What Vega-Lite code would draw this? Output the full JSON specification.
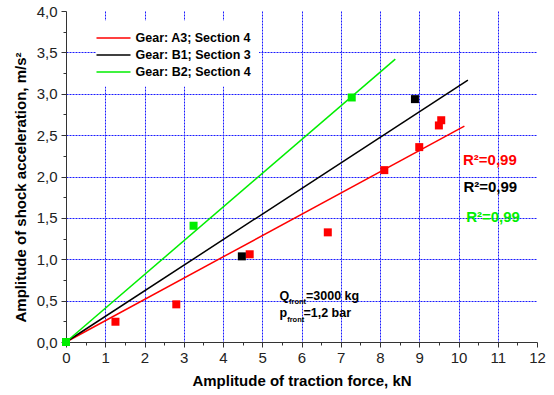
{
  "$schema": "https://vega.github.io/schema/vega-lite/v6.json",
  "width": 471,
  "height": 331,
  "autosize": "none",
  "padding": {"left": 66, "top": 11, "right": 17, "bottom": 53},
  "background": "white",
  "config": {"view": {"stroke": null}, "font": "Liberation Sans"},
  "datasets": {
    "fits": [
      {"series": "Gear: A3; Section 4", "x": 0, "y": 0},
      {"series": "Gear: A3; Section 4", "x": 10.15, "y": 2.609},
      {"series": "Gear: B1; Section 3", "x": 0, "y": 0},
      {"series": "Gear: B1; Section 3", "x": 10.24, "y": 3.164},
      {"series": "Gear: B2; Section 4", "x": 0, "y": 0},
      {"series": "Gear: B2; Section 4", "x": 8.39, "y": 3.418}
    ],
    "points": [
      {"series": "Gear: A3; Section 4", "x": 0, "y": 0},
      {"series": "Gear: A3; Section 4", "x": 1.26, "y": 0.245},
      {"series": "Gear: A3; Section 4", "x": 2.81, "y": 0.455},
      {"series": "Gear: A3; Section 4", "x": 4.68, "y": 1.06},
      {"series": "Gear: A3; Section 4", "x": 6.67, "y": 1.325},
      {"series": "Gear: A3; Section 4", "x": 8.11, "y": 2.077},
      {"series": "Gear: A3; Section 4", "x": 9.0, "y": 2.355},
      {"series": "Gear: A3; Section 4", "x": 9.5, "y": 2.617},
      {"series": "Gear: A3; Section 4", "x": 9.56, "y": 2.68},
      {"series": "Gear: B1; Section 3", "x": 0, "y": 0},
      {"series": "Gear: B1; Section 3", "x": 4.48, "y": 1.035},
      {"series": "Gear: B1; Section 3", "x": 8.89, "y": 2.935},
      {"series": "Gear: B2; Section 4", "x": 0, "y": 0},
      {"series": "Gear: B2; Section 4", "x": 3.25, "y": 1.405},
      {"series": "Gear: B2; Section 4", "x": 7.28, "y": 2.955}
    ],
    "r2": [
      {"series": "Gear: A3; Section 4", "x": 10.8, "y": 2.205, "label": "R²=0,99"},
      {"series": "Gear: B1; Section 3", "x": 10.81, "y": 1.875, "label": "R²=0,99"},
      {"series": "Gear: B2; Section 4", "x": 10.88, "y": 1.506, "label": "R²=0,99"}
    ],
    "notes": [
      {"x": 5.44, "y": 0.559, "label": "Q"},
      {"x": 6.115, "y": 0.559, "label": "=3000 kg"},
      {"x": 5.44, "y": 0.346, "label": "p"},
      {"x": 6.05, "y": 0.346, "label": "=1,2 bar"}
    ],
    "subs": [
      {"x": 5.682, "y": 0.48, "label": "front"},
      {"x": 5.634, "y": 0.27, "label": "front"}
    ]
  },
  "encoding": {
    "x": {
      "field": "x",
      "type": "quantitative",
      "scale": {"domain": [0, 12], "nice": false, "zero": false},
      "axis": {
        "title": "Amplitude of traction force, kN",
        "titleFontSize": 15,
        "titleFontWeight": "bold",
        "titleColor": "black",
        "titlePadding": 8,
        "values": [0, 0.5, 1, 1.5, 2, 2.5, 3, 3.5, 4, 4.5, 5, 5.5, 6, 6.5, 7, 7.5, 8, 8.5, 9, 9.5, 10, 10.5, 11, 11.5, 12],
        "labelExpr": "datum.value % 1 === 0 ? format(datum.value, 'd') : ''",
        "labelFontSize": 15,
        "labelColor": "#222",
        "labelPadding": 3,
        "labelOverlap": false,
        "labelFlush": false,
        "tickColor": "#333",
        "tickSize": {"condition": {"test": "datum.value % 1 !== 0", "value": 3}, "value": 5},
        "domainColor": "#333",
        "grid": true,
        "gridColor": "#1a1aff",
        "gridDash": [2, 1],
        "gridWidth": 1,
        "gridOpacity": {"condition": {"test": "datum.value % 1 !== 0 || datum.value === 0 || datum.value === 12", "value": 0}, "value": 1}
      }
    },
    "y": {
      "field": "y",
      "type": "quantitative",
      "scale": {"domain": [0, 4], "nice": false},
      "axis": {
        "title": "Amplitude of shock acceleration, m/s²",
        "titleFontSize": 15,
        "titleFontWeight": "bold",
        "titleColor": "black",
        "titleX": -38,
        "titleY": 176,
        "values": [0, 0.25, 0.5, 0.75, 1, 1.25, 1.5, 1.75, 2, 2.25, 2.5, 2.75, 3, 3.25, 3.5, 3.75, 4],
        "labelExpr": "datum.value % 0.5 === 0 ? replace(format(datum.value, '.1f'), '.', ',') : ''",
        "labelFontSize": 15,
        "labelColor": "#222",
        "labelPadding": 4,
        "labelOverlap": false,
        "labelFlush": false,
        "tickColor": "#333",
        "tickSize": {"condition": {"test": "datum.value % 0.5 !== 0", "value": 3}, "value": 5},
        "domainColor": "#333",
        "grid": true,
        "gridColor": "#1a1aff",
        "gridDash": [2, 1],
        "gridWidth": 1,
        "gridOpacity": {"condition": {"test": "datum.value % 0.5 !== 0 || datum.value === 0 || datum.value === 4", "value": 0}, "value": 1}
      }
    }
  },
  "layer": [
    {
      "data": {"name": "fits"},
      "mark": {"type": "line", "strokeWidth": 1.5},
      "encoding": {
        "color": {
          "field": "series",
          "type": "nominal",
          "scale": {"domain": ["Gear: A3; Section 4", "Gear: B1; Section 3", "Gear: B2; Section 4"], "range": ["#ff0000", "#000000", "#00ee00"]},
          "legend": {
            "orient": "none",
            "legendX": 30,
            "legendY": 9.5,
            "title": null,
            "symbolType": "M-2,0H2",
            "symbolSize": 289,
            "symbolStrokeWidth": 1.5,
            "labelFontSize": 12.5,
            "labelFontWeight": "bold",
            "labelColor": "black",
            "labelOffset": 12.5,
            "fillColor": "white",
            "padding": 8,
            "rowPadding": 1
          }
        }
      }
    },
    {
      "data": {"name": "points"},
      "mark": {"type": "square", "size": 64, "opacity": 1},
      "encoding": {
        "fill": {
          "field": "series",
          "type": "nominal",
          "scale": {"domain": ["Gear: A3; Section 4", "Gear: B1; Section 3", "Gear: B2; Section 4"], "range": ["#ff0000", "#000000", "#00ee00"]},
          "legend": null
        }
      }
    },
    {
      "data": {"name": "r2"},
      "mark": {"type": "text", "fontSize": 15, "fontWeight": "bold", "align": "center", "baseline": "middle"},
      "encoding": {
        "text": {"field": "label"},
        "fill": {
          "field": "series",
          "type": "nominal",
          "scale": {"domain": ["Gear: A3; Section 4", "Gear: B1; Section 3", "Gear: B2; Section 4"], "range": ["#ff0000", "#000000", "#00ee00"]},
          "legend": null
        }
      }
    },
    {
      "data": {"name": "notes"},
      "mark": {"type": "text", "fontSize": 12.5, "fontWeight": "bold", "align": "left", "baseline": "middle", "color": "black"},
      "encoding": {"text": {"field": "label"}}
    },
    {
      "data": {"name": "subs"},
      "mark": {"type": "text", "fontSize": 7.5, "fontWeight": "bold", "align": "left", "baseline": "middle", "color": "black"},
      "encoding": {"text": {"field": "label"}}
    }
  ]
}
